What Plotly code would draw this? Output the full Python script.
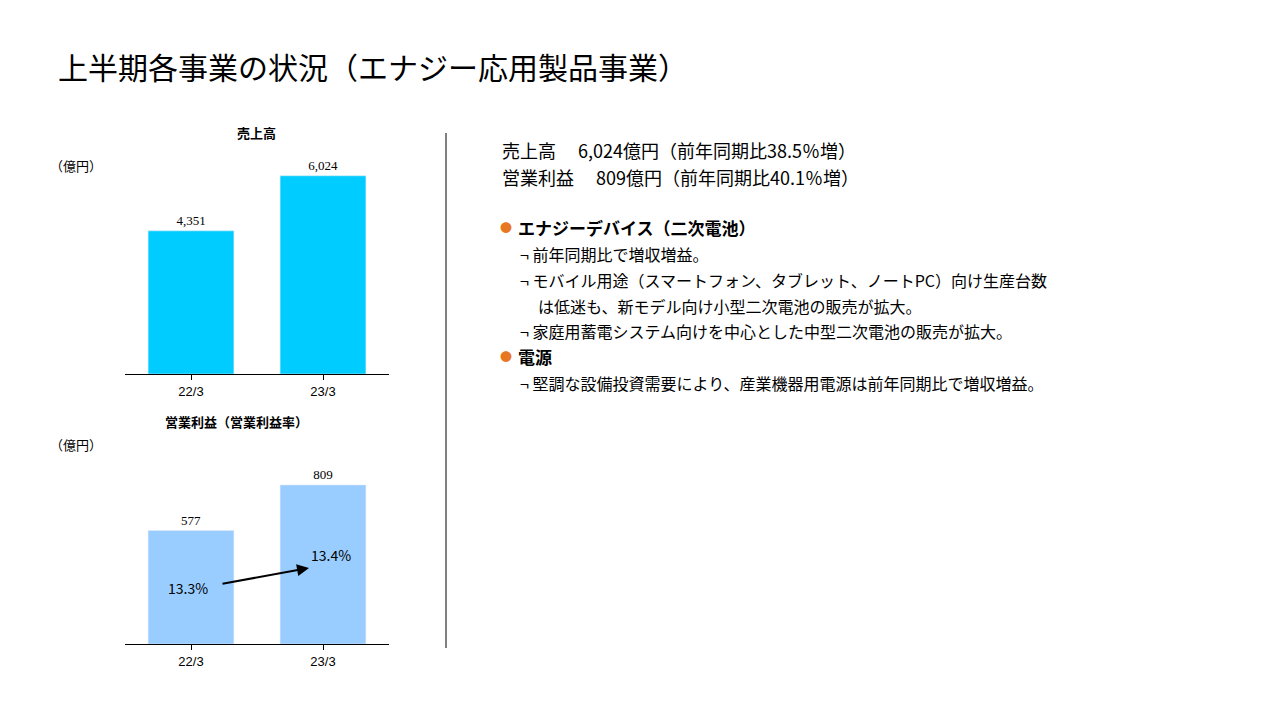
import plotly.graph_objects as go

periods = ["22/3", "23/3"]
sales = [4351, 6024]
profit = [577, 809]
margin = ["13.3%", "13.4%"]

W, H = 1281, 720
def px(x): return x / W
def py(y): return 1 - y / H

font = "Noto Sans CJK JP"
fig = go.Figure()
fig.add_trace(go.Bar(x=periods, y=sales, marker_color="#00CCFF", width=0.65,
                     text=[f"{v:,}" for v in sales], textposition="outside",
                     textfont=dict(size=13, color="black", family="Arial Black"),
                     cliponaxis=False, xaxis="x", yaxis="y"))
fig.add_trace(go.Bar(x=periods, y=profit, marker_color="#99CCFF", width=0.65,
                     text=[f"{v:,}" for v in profit], textposition="outside",
                     textfont=dict(size=13, color="black", family="Arial Black"),
                     cliponaxis=False, xaxis="x2", yaxis="y2"))

ax = dict(showline=True, linecolor="black", linewidth=1, ticks="outside", tickcolor="black",
          tickfont=dict(size=13, color="black", family="Arial"), fixedrange=True)
ay = dict(visible=False, showgrid=False, fixedrange=True)
fig.update_layout(
    width=W, height=H, margin=dict(l=0, r=0, t=0, b=0),
    paper_bgcolor="white", plot_bgcolor="white", showlegend=False,
    xaxis=dict(domain=[px(117), px(381)], anchor="y", **ax),
    yaxis=dict(domain=[py(366), py(140)], range=[0, 6869], **ay),
    xaxis2=dict(domain=[px(117), px(381)], anchor="y2", **ax),
    yaxis2=dict(domain=[py(636), py(450)], range=[0, 946], **ay),
    font=dict(family=font, color="black"),
)

ann = []
def t(x, y, s, size=16, color="black", anchor="left"):
    ann.append(dict(x=px(x), y=py(y), xref="paper", yref="paper", text=s, showarrow=False,
                    xanchor=anchor, yanchor="middle", font=dict(size=size, color=color, family=font)))

t(48, 58, "上半期各事業の状況（エナジー応用製品事業）", 30)
t(248, 124, "<b>売上高</b>", 13, anchor="center")
t(40, 157, "（億円）", 13)
t(228, 413, "<b>営業利益（営業利益率）</b>", 13, anchor="center")
t(40, 437, "（億円）", 13)
t(158, 580, margin[0], 14)
t(301, 547, margin[1], 14)
t(492, 142, "売上高　 6,024億円（前年同期比38.5％増）", 18)
t(492, 169, "営業利益　 809億円（前年同期比40.1％増）", 18)
t(490, 219, "●", 12, "#E87722")
t(508, 219, "<b>エナジーデバイス（二次電池）</b>", 17)
t(510, 246, "¬ 前年同期比で増収増益。", 16)
t(510, 272, "¬ モバイル用途（スマートフォン、タブレット、ノートPC）向け生産台数", 16)
t(528, 298, "は低迷も、新モデル向け小型二次電池の販売が拡大。", 16)
t(510, 323, "¬ 家庭用蓄電システム向けを中心とした中型二次電池の販売が拡大。", 16)
t(490, 348, "●", 12, "#E87722")
t(508, 348, "<b>電源</b>", 17)
t(510, 375, "¬ 堅調な設備投資需要により、産業機器用電源は前年同期比で増収増益。", 16)

ann.append(dict(x=px(301), y=py(560), ax=-88, ay=16, xref="paper", yref="paper",
                showarrow=True, arrowhead=2, arrowsize=1.2,
                arrowwidth=2, arrowcolor="black", text=""))
fig.update_layout(annotations=ann)
fig.add_shape(type="line", xref="paper", yref="paper", x0=px(438), x1=px(438),
              y0=py(125), y1=py(640), line=dict(color="black", width=1))
fig.write_html("out.html")
